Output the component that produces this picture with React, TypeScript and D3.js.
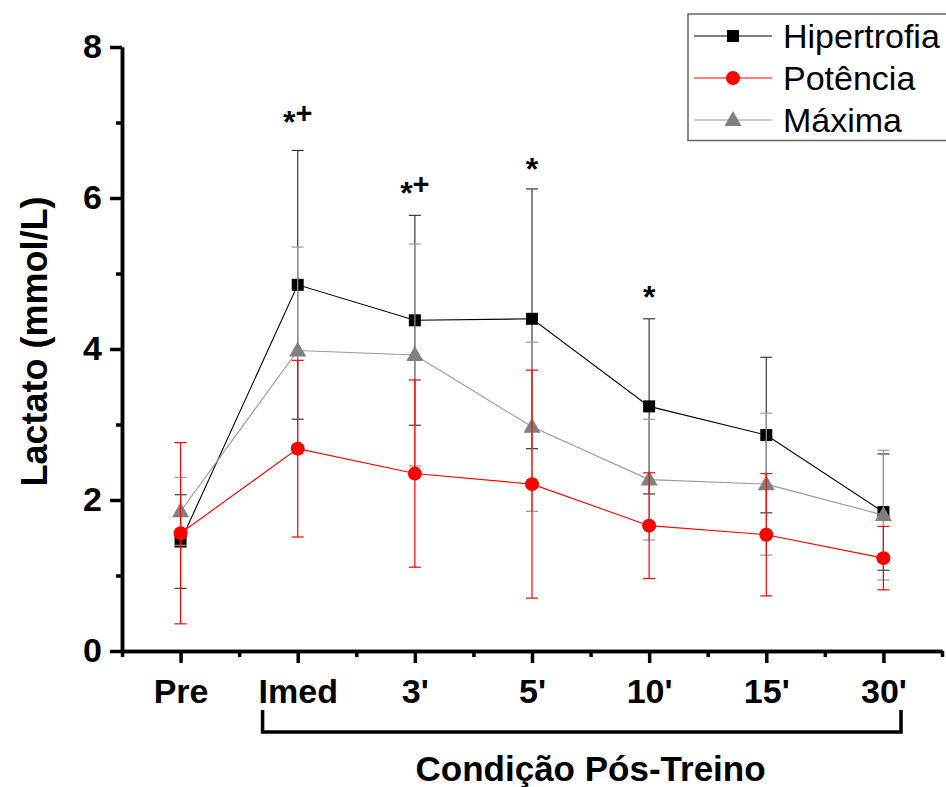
import React, { useEffect, useRef } from "react";
import * as d3 from "d3";

const categories = ["Pre", "Imed", "3'", "5'", "10'", "15'", "30'"];

const hipertrofia = [1.45, 4.85, 4.38, 4.40, 3.24, 2.86, 1.84];
const hipertrofiaSd = [0.62, 1.78, 1.39, 1.72, 1.16, 1.03, 0.77];
const potencia = [1.56, 2.68, 2.35, 2.21, 1.66, 1.54, 1.23];
const potenciaSd = [1.20, 1.17, 1.24, 1.51, 0.70, 0.81, 0.42];
const maxima = [1.85, 3.98, 3.92, 2.97, 2.27, 2.21, 1.80];
const maximaSd = [0.45, 1.37, 1.47, 1.12, 0.80, 0.94, 0.86];

const yTicks = [0, 2, 4, 6, 8];
const yMinorTicks = [1, 3, 5, 7];

// significance marks: category index, "+" flag, height (mmol/L)
const annotIndex = [1, 2, 3, 4];
const annotPlus = [true, true, false, false];
const annotValue = [7.10, 6.16, 6.48, 4.78];

const FONT = "'Liberation Sans', Arial, sans-serif";

const App = () => {
  const ref = useRef(null);

  useEffect(() => {
    const svg = d3.select(ref.current);
    svg.selectAll("*").remove();

    const x = d3.scaleLinear().domain([0, 7]).range([122, 942]);
    const y = d3.scaleLinear().domain([0, 8]).range([651, 47]);
    const cx = (i) => x(i + 0.5);

    const series = [
      { name: "Hipertrofia", values: hipertrofia, sd: hipertrofiaSd, line: "#000", err: "#3a3a3a", fill: "#000", shape: "square" },
      { name: "Máxima", values: maxima, sd: maximaSd, line: "#9a9a9a", err: "#9a9a9a", fill: "#808080", shape: "triangle" },
      { name: "Potência", values: potencia, sd: potenciaSd, line: "#ff0000", err: "#ff0000", fill: "#ff0000", shape: "circle" },
    ];

    const drawMarker = (g, shape, fill, px, py) => {
      if (shape === "square") {
        g.append("rect").attr("x", px - 6).attr("y", py - 6).attr("width", 12).attr("height", 12).attr("fill", fill);
      } else if (shape === "circle") {
        g.append("circle").attr("cx", px).attr("cy", py).attr("r", 7).attr("fill", fill);
      } else {
        g.append("path")
          .attr("d", `M${px},${py - 9}L${px + 8.5},${py + 6}L${px - 8.5},${py + 6}Z`)
          .attr("fill", fill);
      }
    };

    const plot = svg.append("g");
    series.forEach(s => {
      const g = plot.append("g");
      // error bars
      s.values.forEach((v, i) => {
        const top = y(v + s.sd[i]);
        const bot = y(v - s.sd[i]);
        g.append("line").attr("x1", cx(i)).attr("x2", cx(i)).attr("y1", top).attr("y2", bot)
          .attr("stroke", s.err).attr("stroke-width", 1.2);
        [top, bot].forEach(yy => {
          g.append("line").attr("x1", cx(i) - 6).attr("x2", cx(i) + 6).attr("y1", yy).attr("y2", yy)
            .attr("stroke", s.err).attr("stroke-width", 1.2);
        });
      });
      const line = d3.line().x((d, i) => cx(i)).y(d => y(d));
      g.append("path").attr("d", line(s.values)).attr("fill", "none")
        .attr("stroke", s.line).attr("stroke-width", 1.1);
      s.values.forEach((v, i) => drawMarker(g, s.shape, s.fill, cx(i), y(v)));
    });

    // axes
    const styleAxis = (g) => {
      g.selectAll("path.domain").attr("stroke", "#000").attr("stroke-width", 3.5);
      g.selectAll(".tick line").attr("stroke", "#000").attr("stroke-width", 3.5);
      g.selectAll("text").attr("fill", "#000").attr("font-family", FONT)
        .attr("font-weight", "bold").attr("font-size", 34);
    };

    svg.append("g").attr("transform", "translate(122,0)")
      .call(d3.axisLeft(y).tickValues(yMinorTicks).tickSize(6).tickSizeOuter(0).tickFormat(() => ""))
      .call(styleAxis);
    svg.append("g").attr("transform", "translate(122,0)")
      .call(d3.axisLeft(y).tickValues(yTicks).tickSize(12).tickSizeOuter(0).tickPadding(8))
      .call(styleAxis)
      .selectAll("text").attr("dy", "0.3em");

    svg.append("g").attr("transform", "translate(0,651)")
      .call(d3.axisBottom(x).tickValues(d3.range(0, 8)).tickSize(6).tickSizeOuter(0).tickFormat(() => ""))
      .call(styleAxis);
    svg.append("g").attr("transform", "translate(0,651)")
      .call(d3.axisBottom(x).tickValues(categories.map((c, i) => i + 0.5)).tickSize(12).tickSizeOuter(0)
        .tickPadding(16).tickFormat((d, i) => categories[i]))
      .call(styleAxis);

    // bracket for post-training conditions
    svg.append("path")
      .attr("d", `M${x(1.2)},710V732H${x(6.65)}V710`)
      .attr("fill", "none").attr("stroke", "#000").attr("stroke-width", 3.5);

    svg.append("text")
      .attr("x", x(4.0)).attr("y", 781)
      .attr("text-anchor", "middle")
      .attr("font-family", FONT).attr("font-weight", "bold").attr("font-size", 35)
      .text("Condição Pós-Treino");

    svg.append("text")
      .attr("transform", `translate(47,${y(4.1)}) rotate(-90)`)
      .attr("text-anchor", "middle")
      .attr("font-family", FONT).attr("font-weight", "bold").attr("font-size", 36)
      .text("Lactato (mmol/L)");

    // significance marks
    annotIndex.forEach((ci, k) => {
      const t = svg.append("text")
        .attr("x", cx(ci)).attr("y", y(annotValue[k]) + 18)
        .attr("text-anchor", "middle")
        .attr("font-family", FONT).attr("font-weight", "bold").attr("font-size", 32);
      t.append("tspan").text("*");
      if (annotPlus[k]) t.append("tspan").attr("dy", -10).attr("font-size", 29).text("+");
    });

    // legend
    const legend = svg.append("g").attr("transform", "translate(688,14)");
    legend.append("rect").attr("x", 0).attr("y", 0).attr("width", 270).attr("height", 126.5)
      .attr("fill", "#fff").attr("stroke", "#666").attr("stroke-width", 1.5);
    const legendOrder = [series[0], series[2], series[1]];
    legendOrder.forEach((s, i) => {
      const ly = 22 + i * 42;
      legend.append("line").attr("x1", 6).attr("x2", 84).attr("y1", ly).attr("y2", ly)
        .attr("stroke", s.line).attr("stroke-width", 1.1);
      drawMarker(legend, s.shape, s.fill, 45, ly);
      legend.append("text").attr("x", 95).attr("y", ly + 12)
        .attr("font-family", FONT).attr("font-size", 34).attr("fill", "#000")
        .text(s.name);
    });
  }, []);

  return (
    <svg ref={ref} width={946} height={787}
      style={{ position: "absolute", left: 0, top: 0, background: "#fff" }} />
  );
};

export default App;
